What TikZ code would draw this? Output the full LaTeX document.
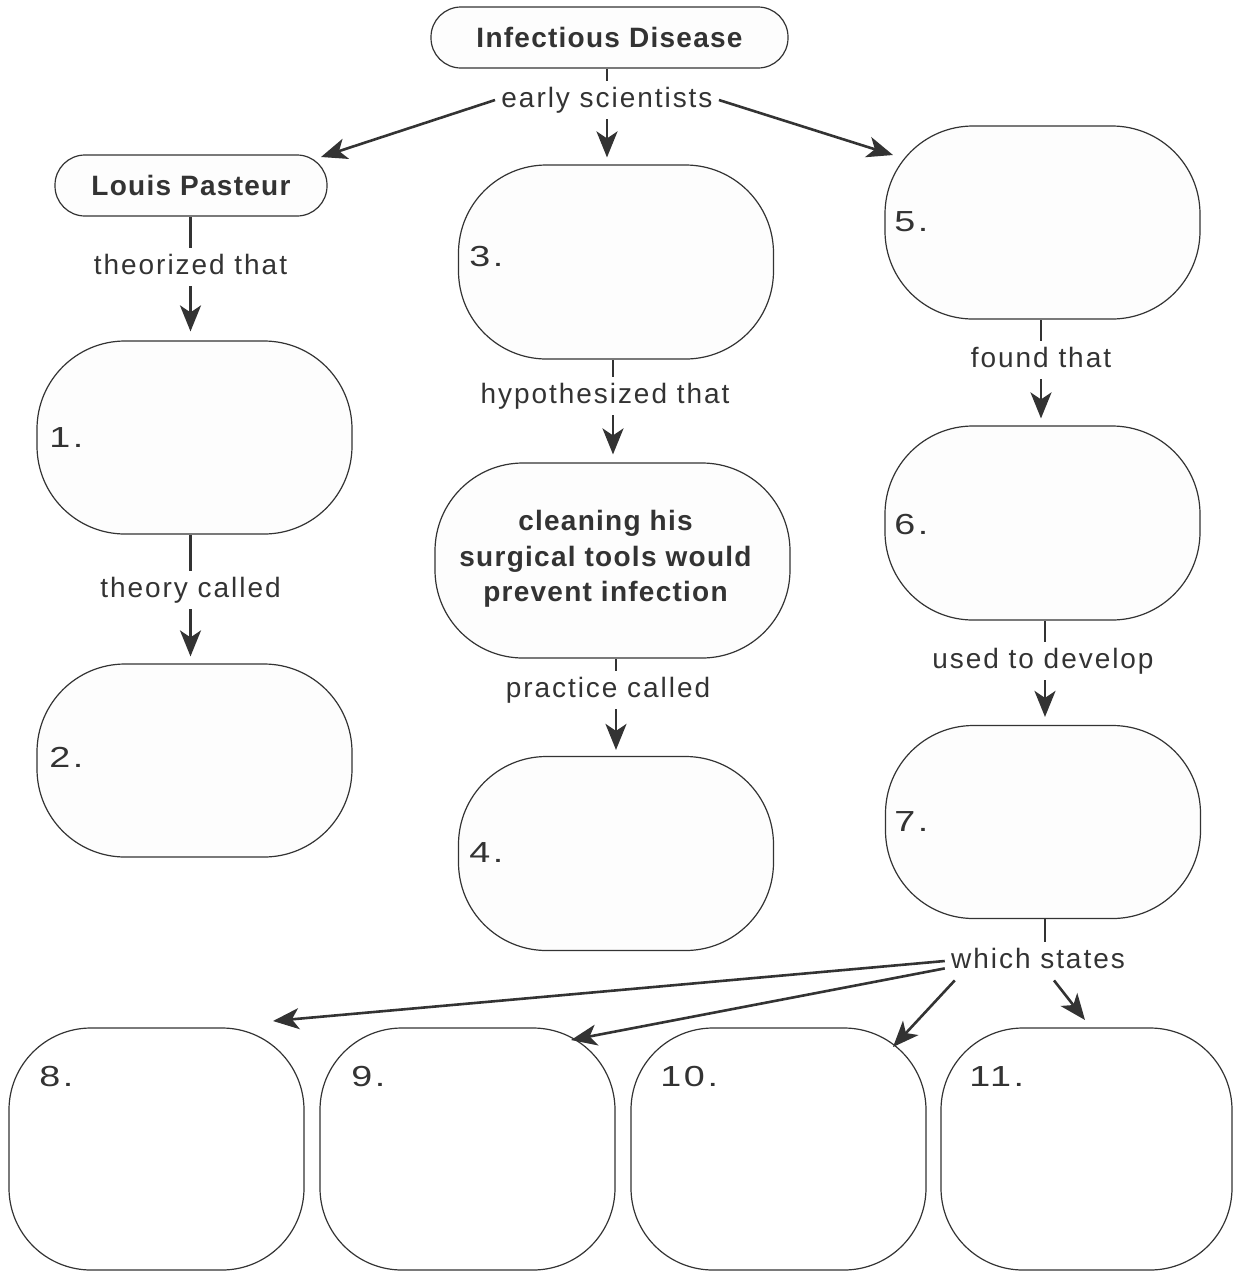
\documentclass[tikz,border=0pt]{standalone}
\usepackage{fontspec}
\setmainfont{Liberation Sans}
\newfontfamily\lblfont[LetterSpace=7]{Liberation Sans}
\newfontfamily\titlefont[LetterSpace=4.5]{Liberation Sans}
\newfontfamily\numfont[LetterSpace=9,FakeStretch=1.3]{Liberation Sans}
\usetikzlibrary{arrows.meta}
\definecolor{ink}{HTML}{333333}
\definecolor{boxfill}{HTML}{FDFDFD}
\begin{document}
\begin{tikzpicture}[x=0.5pt,y=-0.5pt,
  every node/.style={text=ink},
  pillbox/.style={draw=ink, line width=0.6pt, fill=boxfill, inner sep=0pt, rounded corners=15pt,
    minimum height=30.5pt, font=\titlefont\bfseries\fontsize{14pt}{18pt}\selectfont},
  bigbox/.style={draw=ink, line width=0.6pt, fill=boxfill, inner sep=0pt, rounded corners=44pt,
    minimum width=157.5pt, minimum height=96.5pt},
  lowbox/.style={draw=ink, line width=0.6pt, fill=white, inner sep=0pt, rounded corners=41pt,
    minimum width=147.5pt, minimum height=121pt},
  boldtext/.style={align=center, inner sep=0pt,
    font=\titlefont\bfseries\fontsize{14pt}{17.75pt}\selectfont},
  lbl/.style={font=\lblfont\fontsize{14pt}{17pt}\selectfont, text height=10pt, text depth=3pt,
    inner ysep=3pt, inner xsep=3pt, anchor=base},
  num/.style={font=\numfont\fontsize{14.5pt}{17pt}\selectfont, anchor=west, inner sep=0pt},
  conn/.style={draw=ink, line width=1.3pt},
  arr/.style={conn, -{Stealth[length=13pt,width=10.5pt,inset=3.5pt]}}
]
\useasboundingbox (0,0) rectangle (1233,1271);

% boxes
\node[pillbox, minimum width=178.5pt] (ID) at (609.5,37.5) {Infectious Disease};
\node[pillbox, minimum width=136pt] (LP) at (191,185.5) {Louis Pasteur};
\node[bigbox] (B1) at (194.5,437.5) {};
\node[bigbox] (B2) at (194.5,760.5) {};
\node[bigbox, minimum height=97pt] (B3) at (616,262) {};
\node[bigbox, minimum width=177.5pt, minimum height=97.5pt] (BC) at (612.5,560.5) {};
\node[boldtext] (BCt) at (605.5,559) {cleaning his\\surgical tools would\\prevent infection};
\node[bigbox, minimum height=97pt] (B4) at (616,853.5) {};
\node[bigbox] (B5) at (1042.5,222.5) {};
\node[bigbox, minimum height=97pt] (B6) at (1042.5,523) {};
\node[bigbox] (B7) at (1043,822) {};
\node[lowbox] (B8) at (156.5,1149) {};
\node[lowbox] (B9) at (467.5,1149) {};
\node[lowbox] (B10) at (778.5,1149) {};
\node[lowbox, minimum width=145.5pt] (B11) at (1086.5,1149) {};

% numbers
\node[num] (n1) at (49,438) {1.};
\node[num] (n2) at (49,757) {2.};
\node[num] (n3) at (469,257) {3.};
\node[num] (n4) at (469,853) {4.};
\node[num] (n5) at (894,222) {5.};
\node[num] (n6) at (894,525) {6.};
\node[num] (n7) at (894,822) {7.};
\node[num] (n8) at (39,1077) {8.};
\node[num] (n9) at (351,1077) {9.};
\node[num] (n10) at (660,1077) {10.};
\node[num] (n11) at (969,1077) {11.};

% linking labels
\node[lbl] (es) at (607,107) {early scientists};
\node[lbl] (tt) at (190.5,274) {theorized that};
\node[lbl] (tc) at (190.5,597) {theory called};
\node[lbl] (hyp) at (605,403) {hypothesized that};
\node[lbl] (pc) at (608,697) {practice called};
\node[lbl] (ft) at (1041,367) {found that};
\node[lbl] (ud) at (1043,668) {used to develop};
\node[lbl] (ws) at (1038,968) {which states};

% free arrow ends
\coordinate (tLP) at (321,157);
\coordinate (tB5) at (893,155);
\coordinate (tB8) at (273,1021);
\coordinate (tB9) at (571,1040);
\coordinate (tB10) at (893,1047);
\coordinate (tB11) at (1085,1020);

% connectors
\draw[conn] (es.north) -- (es.north |- ID.south);
\draw[arr, shorten >=3.5pt] (es.south) -- (es.south |- B3.north);
\draw[arr] (es.west) -- (tLP);
\draw[arr] (es.east) -- (tB5);

\draw[conn] (tt.north) -- (tt.north |- LP.south);
\draw[arr, shorten >=4.5pt] (tt.south) -- (tt.south |- B1.north);
\draw[conn] (tc.north) -- (tc.north |- B1.south);
\draw[arr, shorten >=3.5pt] (tc.south) -- (tc.south |- B2.north);

\draw[conn] ([xshift=4pt]hyp.north) -- ([xshift=4pt]hyp.north |- B3.south);
\draw[arr, shorten >=4pt] ([xshift=4pt]hyp.south) -- ([xshift=4pt]hyp.south |- BC.north);
\draw[conn] ([xshift=4pt]pc.north) -- ([xshift=4pt]pc.north |- BC.south);
\draw[arr, shorten >=3pt] ([xshift=4pt]pc.south) -- ([xshift=4pt]pc.south |- B4.north);

\draw[conn] (ft.north) -- (ft.north |- B5.south);
\draw[arr, shorten >=3.5pt] (ft.south) -- (ft.south |- B6.north);
\draw[conn] ([xshift=1pt]ud.north) -- ([xshift=1pt]ud.north |- B6.south);
\draw[arr, shorten >=4pt] ([xshift=1pt]ud.south) -- ([xshift=1pt]ud.south |- B7.north);
\draw[conn] ([xshift=3.5pt]ws.north) -- ([xshift=3.5pt]ws.north |- B7.south);

\draw[arr] (ws.west) -- (tB8);
\draw[arr] ([yshift=6pt]ws.south west) -- (tB9);
\draw[arr] ([xshift=5pt]ws.south west) -- (tB10);
\draw[arr] ([xshift=8pt]ws.south) -- (tB11);
\end{tikzpicture}
\end{document}
